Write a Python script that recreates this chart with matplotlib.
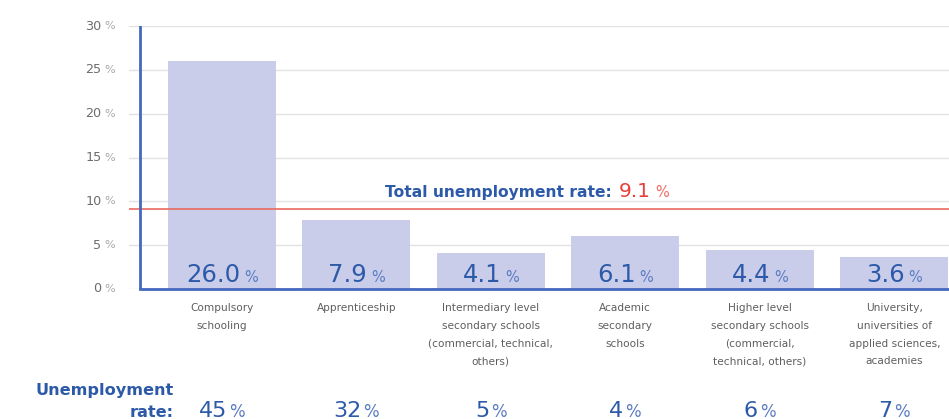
import matplotlib
matplotlib.use("Agg")
import matplotlib.pyplot as plt
from matplotlib.transforms import offset_copy, blended_transform_factory

categories = [
    "Compulsory\nschooling",
    "Apprenticeship",
    "Intermediary level\nsecondary schools\n(commercial, technical,\nothers)",
    "Academic\nsecondary\nschools",
    "Higher level\nsecondary schools\n(commercial,\ntechnical, others)",
    "University,\nuniversities of\napplied sciences,\nacademies",
]
shares = [26.0, 7.9, 4.1, 6.1, 4.4, 3.6]
rates = [45, 32, 5, 4, 6, 7]
total_rate = 9.1
yticks = [0, 5, 10, 15, 20, 25, 30]

BLUE = "#2d5aa8"
PCT_BLUE = "#5a7bc2"
SPINE = "#4468c0"
BAR = "#c9cde9"
RED = "#e8403a"

plt.rcParams["font.family"] = ["DejaVu Sans"]

fig = plt.figure(figsize=(9.49, 4.19), dpi=100)
ax = fig.add_axes([129 / 949, 130 / 419, 820 / 949, 263 / 419])
x = list(range(len(categories)))
xl, xr = -0.69, 5.407
spine_x = -0.61
ax.set_xlim(xl, xr)
ax.set_ylim(0, 30)

for t in yticks:
    ax.axhline(t, color="#e2e2e2", lw=1.0, zorder=0)
ax.bar(x, shares, width=0.8, color=BAR, zorder=1)

for s in ["top", "right", "left"]:
    ax.spines[s].set_visible(False)
ax.spines["bottom"].set_bounds(spine_x, xr)
ax.spines["bottom"].set_color(SPINE)
ax.spines["bottom"].set_linewidth(2)
ax.axvline(spine_x, color=SPINE, lw=2, zorder=3)
ax.set_xticks([])
ax.set_yticks([])

ax.axhline(total_rate, color="#ea6a5e", lw=1.2, zorder=2)

combos = []


def combo(xp, yp, num, s1, c1, pct, s2, c2, transform, gap=3, align="center", va="baseline"):
    t1 = fig.text(0, 0, num, fontsize=s1, color=c1, ha="left", va=va)
    t2 = fig.text(0, 0, pct, fontsize=s2, color=c2, ha="left", va=va)
    combos.append((xp, yp, t1, t2, transform, gap, align))


# y tick labels
for t in yticks:
    combo(xl, t, str(t), 9.2, "#6c6c6c", "%", 8, "#a8a8a8", ax.transData,
          gap=3, align="right", va="center")

# bar value labels
for xi, v in zip(x, shares):
    combo(xi, 0.85, f"{v:.1f}", 17.5, BLUE, "%", 10.5, PCT_BLUE, ax.transData, gap=4)

# rates row
row_tr = blended_transform_factory(ax.transData, fig.transFigure)
for xi, r in zip(x, rates):
    combo(xi, 2.5 / 419, f"{r}", 16, BLUE, "%", 12, PCT_BLUE, row_tr, gap=2)

fig.text(174 / 949, 1 - 395 / 419, "Unemployment", fontsize=11.6, color=BLUE,
         fontweight="bold", ha="right", va="baseline")
fig.text(174 / 949, 1 - 416.5 / 419, "rate:", fontsize=11.6, color=BLUE,
         fontweight="bold", ha="right", va="baseline")

# category labels
for xi, c in zip(x, categories):
    ax.text(xi, -0.055, c, transform=ax.get_xaxis_transform(), ha="center", va="top",
            fontsize=7.6, color="#5e5e5e", linespacing=1.95)

fig.canvas.draw()
r = fig.canvas.get_renderer()
for xp, yp, t1, t2, tr, gap, align in combos:
    w1 = t1.get_window_extent(r).width
    w2 = t2.get_window_extent(r).width
    tot = w1 + gap + w2
    if align == "center":
        d0 = -tot / 2
    elif align == "right":
        d0 = -tot - 14
    else:
        d0 = 0
    t1.set_position((xp, yp))
    t2.set_position((xp, yp))
    t1.set_transform(offset_copy(tr, fig=fig, x=d0, y=0, units="dots"))
    t2.set_transform(offset_copy(tr, fig=fig, x=d0 + w1 + gap, y=0, units="dots"))

# total unemployment label
base_y = 1 - 197 / 419
lbl = fig.text(385 / 949, base_y, "Total unemployment rate:", fontsize=11.2,
               color=BLUE, fontweight="bold", ha="left", va="baseline")
fig.canvas.draw()
bb = lbl.get_window_extent(r)
n = fig.text((bb.x1 + 7) / 949, base_y, f"{total_rate}", fontsize=14.5, color=RED,
             ha="left", va="baseline")
fig.canvas.draw()
bb2 = n.get_window_extent(r)
fig.text((bb2.x1 + 4) / 949, base_y, "%", fontsize=10.5, color="#ee6a62",
         ha="left", va="baseline")

fig.savefig("out.png", dpi=100)
